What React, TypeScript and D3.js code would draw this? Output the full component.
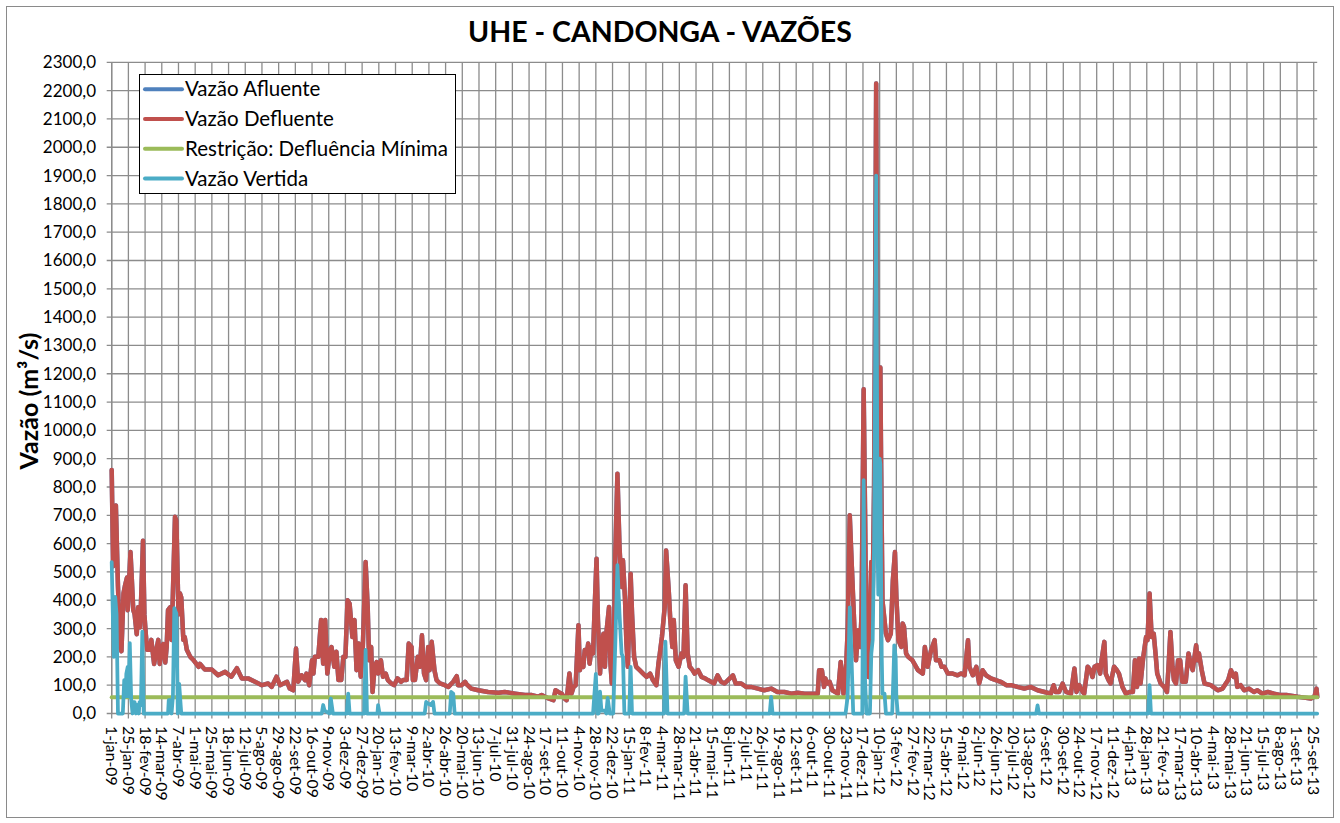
import React from 'react';
import * as d3 from 'd3';

// ---------- data (day index since 1-jan-2009, value in m³/s) ----------
const startDate = '2009-01-01';
const lastDay = 1733;
const tickStepDays = 24;
const yMax = 2300;
const yStep = 100;
const monthsPt = ['janeiro','fevereiro','março','abril','maio','junho','julho','agosto','setembro','outubro','novembro','dezembro'];
const shortMonthsPt = ['jan','fev','mar','abr','mai','jun','jul','ago','set','out','nov','dez'];
const restricaoMinima = 57;

const defluente: [number, number][] = [
[0,860],[2,520],[4,700],[6,735],[9,450],[12,235],[14,220],[17,425],[19,450],[22,480],[23,365],[27,570],[29,470],[31,365],[33,350],[36,280],[38,375],[41,305],[45,610],[47,350],[49,280],[51,225],[55,225],[57,260],[61,175],[65,235],[67,260],[69,175],[72,235],[74,245],[77,180],[79,235],[81,365],[84,375],[86,260],[88,425],[91,695],[93,680],[96,350],[98,425],[100,410],[103,260],[105,270],[108,225],[113,200],[117,190],[125,165],[127,175],[134,155],[144,155],[153,135],[163,147],[172,130],[180,160],[187,124],[196,124],[206,112],[216,100],[225,106],[230,94],[237,130],[242,100],[252,112],[256,88],[261,82],[265,230],[268,112],[273,135],[278,118],[280,141],[284,100],[288,188],[290,141],[292,200],[297,200],[301,330],[304,176],[307,330],[310,141],[314,224],[316,235],[320,165],[323,218],[326,118],[330,118],[333,200],[336,200],[339,400],[342,388],[346,270],[349,330],[352,153],[355,247],[358,130],[361,235],[365,535],[368,376],[370,188],[373,235],[375,76],[378,165],[381,182],[383,141],[387,188],[390,130],[394,141],[397,118],[402,106],[406,100],[411,124],[416,112],[419,118],[424,118],[427,247],[431,235],[433,118],[436,118],[440,200],[443,165],[446,276],[449,141],[452,118],[455,235],[457,153],[460,253],[464,153],[467,118],[472,106],[479,100],[484,94],[491,112],[496,132],[498,100],[503,100],[508,112],[510,104],[517,88],[527,82],[541,76],[556,73],[565,76],[580,70],[594,65],[604,65],[613,59],[618,65],[628,53],[635,47],[638,82],[642,76],[647,70],[651,53],[654,47],[658,141],[661,70],[664,94],[667,100],[671,312],[673,153],[675,176],[678,165],[680,224],[683,212],[685,247],[687,176],[690,235],[692,212],[694,353],[697,547],[699,330],[702,141],[704,235],[707,282],[709,165],[711,282],[715,376],[717,176],[719,106],[722,247],[724,565],[727,847],[730,588],[733,447],[735,541],[738,400],[740,247],[742,165],[746,494],[748,353],[751,200],[754,165],[759,153],[764,141],[769,129],[774,141],[778,118],[783,100],[786,176],[788,212],[791,270],[795,376],[797,576],[801,424],[803,330],[806,235],[808,330],[811,188],[815,165],[819,212],[822,200],[825,453],[828,212],[831,165],[835,153],[838,141],[843,153],[848,129],[853,124],[857,118],[866,106],[871,135],[876,112],[881,106],[886,118],[893,135],[897,106],[905,106],[912,94],[919,94],[929,88],[938,82],[948,88],[957,76],[967,76],[977,70],[986,73],[996,70],[1005,70],[1015,70],[1017,153],[1021,153],[1024,94],[1026,124],[1028,106],[1032,112],[1036,82],[1044,70],[1048,182],[1052,70],[1056,176],[1058,294],[1061,700],[1064,518],[1068,282],[1070,188],[1073,294],[1076,235],[1078,353],[1081,1145],[1083,706],[1085,235],[1088,129],[1090,353],[1092,535],[1094,420],[1096,800],[1098,1700],[1099,2225],[1100,1600],[1101,900],[1102,700],[1104,1000],[1105,1222],[1106,900],[1108,400],[1113,282],[1116,259],[1118,270],[1120,282],[1123,470],[1126,570],[1128,412],[1131,259],[1135,235],[1137,318],[1139,306],[1142,212],[1145,200],[1151,188],[1159,153],[1166,141],[1169,235],[1173,165],[1178,224],[1183,259],[1185,188],[1190,188],[1193,165],[1197,165],[1202,141],[1209,141],[1216,135],[1221,141],[1226,135],[1231,259],[1233,165],[1238,135],[1243,165],[1247,106],[1252,153],[1257,135],[1264,124],[1271,118],[1278,112],[1286,100],[1293,100],[1302,94],[1312,88],[1321,94],[1331,82],[1341,76],[1350,70],[1354,100],[1357,76],[1362,76],[1367,106],[1372,76],[1379,70],[1384,159],[1387,76],[1391,100],[1396,76],[1398,70],[1403,165],[1407,153],[1410,129],[1413,165],[1417,171],[1421,141],[1423,188],[1427,253],[1429,141],[1433,118],[1436,106],[1441,165],[1445,153],[1448,141],[1453,94],[1458,70],[1463,76],[1468,76],[1471,188],[1474,94],[1477,194],[1479,106],[1483,200],[1487,270],[1489,259],[1492,424],[1495,270],[1498,282],[1501,200],[1503,141],[1508,106],[1513,94],[1517,76],[1519,153],[1522,288],[1525,165],[1527,118],[1530,106],[1533,188],[1536,188],[1539,112],[1544,112],[1548,212],[1550,188],[1554,153],[1559,241],[1561,188],[1563,212],[1567,153],[1571,106],[1580,100],[1590,82],[1597,88],[1605,118],[1609,153],[1613,129],[1616,141],[1618,94],[1623,100],[1628,82],[1635,88],[1642,76],[1647,82],[1654,70],[1662,76],[1671,70],[1681,65],[1690,65],[1700,61],[1705,59],[1714,56],[1724,53],[1729,59],[1732,88],[1733,59]
];

// Afluente coincides with Defluente in the picture (hidden underneath)
const afluente: [number, number][] = defluente;

const vertida: [number, number][] = [
[0,535],[1,420],[3,200],[5,412],[7,350],[9,0],[16,0],[17,60],[18,118],[20,60],[21,140],[23,165],[24,60],[26,249],[28,50],[30,0],[31,40],[33,40],[35,0],[37,30],[39,0],[40,40],[42,30],[44,289],[46,0],[81,0],[82,47],[84,47],[86,0],[88,60],[90,372],[93,353],[95,0],[97,105],[100,0],
[302,0],[304,30],[306,10],[313,0],[315,53],[318,0],[338,0],[340,70],[342,0],[363,0],[365,225],[367,0],[382,0],[383,30],[385,0],
[450,0],[452,41],[455,35],[459,30],[462,41],[464,0],[486,0],[488,76],[491,70],[493,0],
[692,0],[696,140],[698,0],[700,0],[702,77],[704,10],[709,10],[711,0],[713,55],[716,0],[721,0],[724,248],[727,524],[730,353],[733,212],[735,200],[737,0],[744,0],[746,165],[748,0],[794,0],[796,254],[799,0],[823,0],[825,130],[828,0],
[946,0],[948,59],[950,0],
[1055,0],[1058,60],[1061,375],[1063,240],[1066,0],[1079,0],[1081,824],[1083,120],[1085,0],[1090,0],[1092,212],[1094,260],[1096,600],[1097,1000],[1098,1500],[1099,1900],[1100,1300],[1101,600],[1102,420],[1103,700],[1104,900],[1105,880],[1106,500],[1107,200],[1108,70],[1111,70],[1113,0],[1122,0],[1124,150],[1125,241],[1127,200],[1128,60],[1130,0],
[1329,0],[1331,29],[1333,0],[1490,0],[1492,100],[1494,0],[1733,0]
];

const restricao: [number, number][] = [[0, restricaoMinima], [lastDay, restricaoMinima]];

const seriesNames = ['Vazão Afluente', 'Vazão Defluente', 'Restrição: Defluência Mínima', 'Vazão Vertida'];
const seriesColors = ['#4F81BD', '#C0504D', '#9BBB59', '#4BACC6'];
const titleText = 'UHE - CANDONGA - VAZÕES';
const yTitle = 'Vazão (m³/s)';

// ---------- layout ----------
const W = 1340, H = 823;
const PL = 111.7, PR = 1317.2, PT = 62.3, PB = 713.5;
const FONT = "Lato, 'Open Sans', 'DejaVu Sans', sans-serif";

const locale = d3.timeFormatLocale({
  dateTime: '%d/%m/%Y %H:%M:%S', date: '%d/%m/%Y', time: '%H:%M:%S',
  periods: ['AM', 'PM'],
  days: ['domingo','segunda','terça','quarta','quinta','sexta','sábado'],
  shortDays: ['dom','seg','ter','qua','qui','sex','sáb'],
  months: monthsPt, shortMonths: shortMonthsPt,
});
const fmtTick = locale.utcFormat('%-d-%b-%y');
const fmtNum = (v: number) => v.toFixed(1).replace('.', ',');

export default function App() {
  const t0 = new Date(startDate + 'T00:00:00Z');
  const dateOf = (d: number) => d3.utcDay.offset(t0, d);
  const x = d3.scaleUtc().domain([t0, dateOf(lastDay)]).range([PL, PR]);
  const y = d3.scaleLinear().domain([0, yMax]).range([PB, PT]);
  const xTicks = d3.range(0, lastDay + 1, tickStepDays).map(dateOf);
  const yTicks = y.ticks(yMax / yStep);
  const line = d3.line<[number, number]>().x(d => x(dateOf(d[0]))).y(d => y(d[1]));
  const data = [afluente, defluente, restricao, vertida];
  const widths = [4.5, 4.5, 4, 3.75];

  return (
    <svg width={W} height={H} style={{ position: 'absolute', left: 0, top: 0, background: '#fff' }} fontFamily={FONT}>
      <rect x={6.5} y={6.5} width={1327} height={811} fill="#fff" stroke="#8a8a8a" strokeWidth={1} />
      <text x={660} y={42} textAnchor="middle" fontSize={28.5} fontWeight={700} fill="#000">{titleText}</text>

      {/* gridlines */}
      <g stroke="#8c8c8c" strokeWidth={1.3}>
        {yTicks.map(v => (
          <line key={'h' + v} x1={PL - 5} x2={PR} y1={y(v)} y2={y(v)} />
        ))}
        {xTicks.map((d, i) => (
          <line key={'v' + i} x1={x(d)} x2={x(d)} y1={PT} y2={PB + 5} />
        ))}
        <line x1={PL} x2={PL} y1={PT} y2={PB} />
      </g>

      {/* y labels */}
      <g fontSize={17} fill="#000" textAnchor="end">
        {yTicks.map(v => (
          <text key={'yl' + v} x={96} y={y(v)} dy="0.35em">{fmtNum(v)}</text>
        ))}
      </g>
      <text transform={`translate(38,401) rotate(-90)`} textAnchor="middle" fontSize={25} fontWeight={700} fill="#000">{yTitle}</text>

      {/* x labels */}
      <g fontSize={15.8} fill="#000">
        {xTicks.map((d, i) => (
          <text key={'xl' + i} transform={`translate(${x(d)},726) rotate(90)`} dy="0.35em">{fmtTick(d)}</text>
        ))}
      </g>

      {/* series */}
      <g fill="none" strokeLinejoin="round" strokeLinecap="round">
        {data.map((s, i) => (
          <path key={'s' + i} d={line(s) || ''} stroke={seriesColors[i]} strokeWidth={widths[i]} />
        ))}
      </g>

      {/* legend */}
      <g>
        <rect x={139.5} y={74.5} width={316} height={119} fill="#fff" stroke="#000" strokeWidth={1} />
        {seriesNames.map((n, i) => {
          const cy = 89.3 + i * 29.7;
          return (
            <g key={'lg' + i}>
              <line x1={145} x2={182} y1={cy} y2={cy} stroke={seriesColors[i]} strokeWidth={4} strokeLinecap="round" />
              <text x={185} y={cy} dy="0.35em" fontSize={20.5} fill="#000">{n}</text>
            </g>
          );
        })}
      </g>
    </svg>
  );
}
